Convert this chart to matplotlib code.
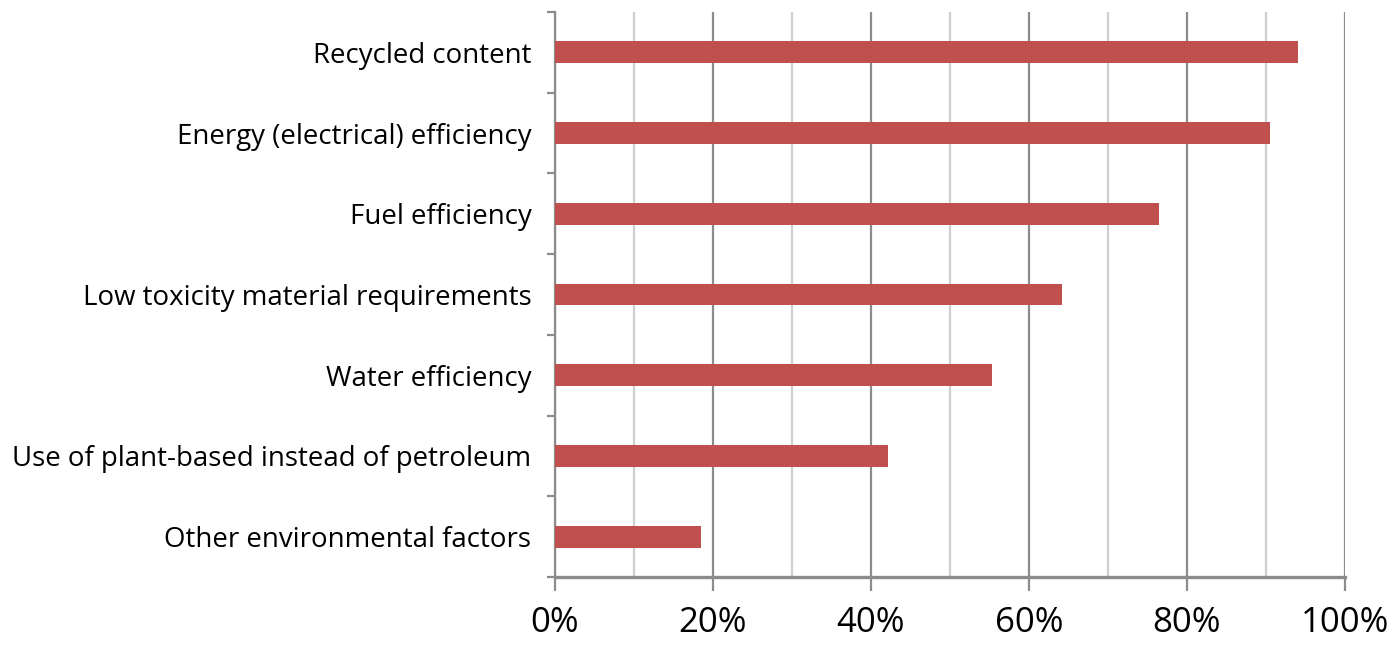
import matplotlib.pyplot as plt
from matplotlib.ticker import MultipleLocator, FixedLocator

# data, top to bottom
categories = [
    "Recycled content",
    "Energy (electrical) efficiency",
    "Fuel efficiency",
    "Low toxicity material requirements",
    "Water efficiency",
    "Use of plant-based instead of petroleum",
    "Other environmental factors",
]
shares = [94.1, 90.5, 76.5, 64.2, 55.3, 42.2, 18.5]
x_ticks = [0, 20, 40, 60, 80, 100]
x_tick_labels = ["0%", "20%", "40%", "60%", "80%", "100%"]

plt.rcParams["font.family"] = ["Open Sans", "DejaVu Sans"]

fig = plt.figure(figsize=(13.98, 6.63), dpi=100)
ax = fig.add_axes([555 / 1398, 1 - 577 / 663, 790 / 1398, 565 / 663])

pos = list(range(len(categories)))
ax.barh(pos, shares, height=0.27, color="#C0504D", zorder=3)

ax.set_xlim(0, 100)
ax.set_ylim(len(categories) - 0.5, -0.5)

# gridlines: darker every 20%, lighter every 10%
ax.xaxis.set_major_locator(FixedLocator(x_ticks))
ax.xaxis.set_minor_locator(MultipleLocator(10))
ax.set_xticklabels(x_tick_labels, fontsize=25)
ax.grid(axis="x", which="major", color="#8c8c8c", linewidth=1.6, zorder=0)
ax.grid(axis="x", which="minor", color="#cfcfcf", linewidth=1.6, zorder=0)
ax.tick_params(axis="x", which="major", length=10, width=1.6, color="#8c8c8c", pad=11)
ax.tick_params(axis="x", which="minor", length=0)

ax.set_yticks(pos)
ax.set_yticklabels(categories, fontsize=19.9)
ax.yaxis.set_minor_locator(FixedLocator([p - 0.5 for p in pos] + [len(pos) - 0.5]))
ax.tick_params(axis="y", which="major", length=0, pad=17)
ax.tick_params(axis="y", which="minor", length=6, width=1.6, color="#8c8c8c")

for side in ["top", "right"]:
    ax.spines[side].set_visible(False)
ax.spines["left"].set_color("#8c8c8c")
ax.spines["left"].set_linewidth(1.6)
ax.spines["bottom"].set_color("#8c8c8c")
ax.spines["bottom"].set_linewidth(2.4)

fig.savefig("out.png", dpi=100)
